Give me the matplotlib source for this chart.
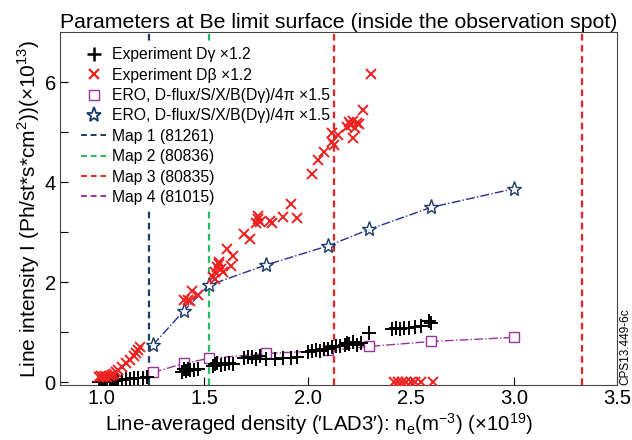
import numpy as np
import matplotlib
matplotlib.use('Agg')
import matplotlib.pyplot as plt
from matplotlib.lines import Line2D

plt.rcParams['font.family'] = ['Liberation Sans', 'DejaVu Sans']

# Experiment D-gamma (x1.2)
dg_x = [0.99, 1.00, 1.01, 1.02, 1.03, 1.04, 1.05, 1.06, 1.07, 1.08, 1.10, 1.12, 1.14, 1.16, 1.18, 1.20, 1.22,
        1.39, 1.40, 1.41, 1.42, 1.43, 1.45, 1.47,
        1.54, 1.55, 1.56, 1.58, 1.60, 1.62, 1.64,
        1.69, 1.71, 1.73, 1.75, 1.77, 1.80, 1.84, 1.88, 1.92, 1.95,
        2.00, 2.02, 2.04, 2.06, 2.08, 2.10, 2.12, 2.14, 2.16, 2.18, 2.19, 2.20, 2.22, 2.24, 2.26,
        2.30, 2.41, 2.43, 2.45, 2.47, 2.49, 2.52, 2.55, 2.59, 2.60]
dg_y = [0.00, 0.00, 0.01, 0.01, 0.02, 0.02, 0.03, 0.03, 0.04, 0.04, 0.05, 0.06, 0.07, 0.08, 0.08, 0.09, 0.10,
        0.20, 0.26, 0.22, 0.27, 0.25, 0.24, 0.26,
        0.33, 0.36, 0.38, 0.35, 0.37, 0.38, 0.36,
        0.48, 0.50, 0.51, 0.47, 0.52, 0.46, 0.47, 0.49, 0.48, 0.50,
        0.60, 0.62, 0.64, 0.63, 0.66, 0.66, 0.70, 0.72, 0.73, 0.74, 0.78, 0.76, 0.80, 0.75, 0.78,
        0.98, 1.06, 1.08, 1.07, 1.08, 1.09, 1.10, 1.12, 1.22, 1.18]

# Experiment D-beta (x1.2)
db_x = [0.99, 1.00, 1.01, 1.02, 1.03, 1.04, 1.05, 1.06, 1.07, 1.08, 1.10, 1.12, 1.14, 1.16, 1.17, 1.18, 1.19,
        1.40, 1.42, 1.43, 1.44, 1.47,
        1.54, 1.55, 1.56, 1.57, 1.58, 1.59, 1.55, 1.57, 1.63, 1.61, 1.64,
        1.69, 1.72, 1.76, 1.76, 1.77, 1.75, 1.82, 1.83, 1.88, 1.92, 1.95,
        2.02, 2.05, 2.08, 2.12, 2.13, 2.12, 2.15, 2.19, 2.20, 2.21, 2.22, 2.23, 2.24, 2.25, 2.22, 2.27, 2.31,
        2.42, 2.44, 2.46, 2.48, 2.50, 2.52, 2.55, 2.61]
db_y = [0.10, 0.12, 0.10, 0.13, 0.10, 0.12, 0.14, 0.17, 0.20, 0.25, 0.30, 0.38, 0.45, 0.52, 0.58, 0.64, 0.70,
        1.64, 1.64, 1.62, 1.82, 1.74,
        2.10, 2.20, 2.30, 2.36, 2.26, 2.20, 2.06, 2.40, 2.32, 2.66, 2.52,
        2.96, 2.86, 3.26, 3.32, 3.20, 3.18, 3.22, 3.18, 3.30, 3.56, 3.28,
        4.16, 4.44, 4.60, 4.80, 4.74, 4.98, 4.94, 5.10, 5.20, 5.14, 5.22, 5.08, 5.18, 5.16, 4.88, 5.44, 6.16,
        0.0, 0.0, 0.0, 0.0, 0.0, 0.0, 0.0, 0.0]

# ERO simulations (x1.5)
ero_x = [1.25, 1.40, 1.52, 1.80, 2.10, 2.30, 2.60, 3.00]
ero_sq = [0.20, 0.38, 0.48, 0.58, 0.64, 0.72, 0.82, 0.90]
ero_star = [0.75, 1.43, 1.94, 2.35, 2.73, 3.06, 3.50, 3.87]

map_x = [1.23, 1.52, 2.13]
map_labels = ['Map 1 (81261)', 'Map 2 (80836)', 'Map 3 (80835)', 'Map 4 (81015)']
map_colors = ['#1d3d66', '#1fbf5f', '#ee2020', '#993399']
extra_red_x = 3.33

fig = plt.figure(figsize=(6.32, 4.40), dpi=100)
ax = fig.add_axes([0.095, 0.125, 0.881, 0.802])

# map 1 and 2 sit behind the legend, the red ones stay on top
for xv, c, z in zip(map_x, map_colors[:3], [1, 1, 3]):
    ax.axvline(xv, color=c, ls=(0, (3, 2)), lw=1.6, zorder=z)
ax.axvline(extra_red_x, color=map_colors[2], ls=(0, (3, 2)), lw=1.6, zorder=3)

ax.plot(ero_x, ero_sq, color='#993399', ls='-.', lw=1.0, marker='s', ms=7,
        mfc='white', mec='#993399', mew=1.0, zorder=3)
ax.plot(ero_x, ero_star, color='#2b2b99', ls='-.', lw=1.0, marker='*', ms=11,
        mfc='white', mec='#1a3a66', mew=1.0, zorder=3)
ax.plot(dg_x, dg_y, ls='none', marker='+', ms=10, mew=1.4, color='black', zorder=4)
ax.plot(db_x, db_y, ls='none', marker='x', ms=6.5, mew=1.4, color='#ee2020', zorder=4)

handles = [
    Line2D([], [], ls='none', marker='+', ms=10, mew=1.8, color='black'),
    Line2D([], [], ls='none', marker='x', ms=6.5, mew=1.6, color='#ee2020'),
    Line2D([], [], ls='none', marker='s', ms=7, mfc='white', mec='#993399'),
    Line2D([], [], ls='none', marker='*', ms=11, mfc='white', mec='#1a3a66', mew=1.3),
] + [Line2D([], [], color=c, ls=(0, (3, 2)), lw=1.4) for c in map_colors]
labels = ['Experiment D\u03b3 \u00d71.2', 'Experiment D\u03b2 \u00d71.2',
          'ERO, D-flux/S/X/B(D\u03b3)/4\u03c0 \u00d71.5',
          'ERO, D-flux/S/X/B(D\u03b3)/4\u03c0 \u00d71.5'] + map_labels
leg = ax.legend(handles, labels, loc='upper left', frameon=True, fontsize=11.35,
                handlelength=1.6, handletextpad=0.35, labelspacing=0.34,
                borderaxespad=0.3, bbox_to_anchor=(0.018, 0.988))
leg.get_frame().set_edgecolor('none')
leg.get_frame().set_alpha(1)
leg.set_zorder(2)

ax.set_xlim(0.8, 3.5)
ax.set_ylim(-0.05, 7.0)
ax.set_xticks([1.0, 1.5, 2.0, 2.5, 3.0, 3.5])
ax.set_xticklabels(['1.0', '1.5', '2.0', '2.5', '3.0', '3.5'])
ax.set_yticks([0, 1, 2, 3, 4, 5, 6])
ax.set_yticklabels(['0', '', '2', '', '4', '', '6'])
ax.tick_params(direction='in', length=6, labelsize=14.5, width=0.8, pad=3)
for s in ax.spines.values():
    s.set_color('#444444')

ax.set_title('Parameters at Be limit surface (inside the observation spot)', fontsize=15.3, pad=3)
ax.set_xlabel("Line-averaged density (\u2032LAD3\u2032): n$_\\mathregular{e}$(m$^\\mathregular{-3}$) (\u00d710$^\\mathregular{19}$)",
              fontsize=14.7)
ax.xaxis.set_label_coords(0.465, -0.075)
ax.set_ylabel('Line intensity I (Ph/st*s*cm$^\\mathregular{2}$))(\u00d710$^\\mathregular{13}$)',
              fontsize=15, labelpad=2)
fig.text(0.989, 0.125, 'CPS13.449-6c', rotation=90, fontsize=8.5, ha='center', va='bottom')

fig.savefig('out.png', dpi=100)
